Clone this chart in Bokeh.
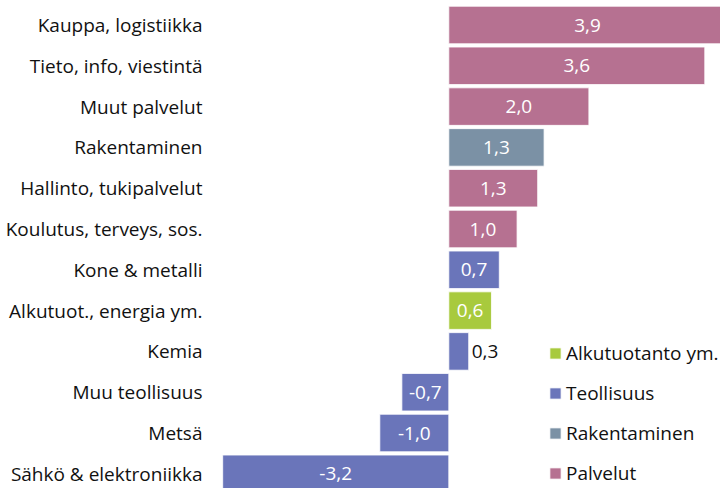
from bokeh.plotting import figure
from bokeh.models import Range1d, FixedTicker, Legend, LegendItem, ColumnDataSource
from bokeh.core.properties import value
from bokeh.embed import file_html
from bokeh.resources import INLINE

categories = ["Kauppa, logistiikka", "Tieto, info, viestintä", "Muut palvelut",
              "Rakentaminen", "Hallinto, tukipalvelut", "Koulutus, terveys, sos.",
              "Kone & metalli", "Alkutuot., energia ym.", "Kemia",
              "Muu teollisuus", "Metsä", "Sähkö & elektroniikka"]
values = [3.9, 3.6, 1.97, 1.34, 1.25, 0.96, 0.71, 0.6, 0.28, -0.66, -0.97, -3.18]
value_labels = ["3,9", "3,6", "2,0", "1,3", "1,3", "1,0", "0,7", "0,6", "0,3", "-0,7", "-1,0", "-3,2"]
groups = ["Palvelut", "Palvelut", "Palvelut", "Rakentaminen", "Palvelut", "Palvelut",
          "Teollisuus", "Alkutuotanto ym.", "Teollisuus", "Teollisuus", "Teollisuus", "Teollisuus"]
legend_order = ["Alkutuotanto ym.", "Teollisuus", "Rakentaminen", "Palvelut"]
group_colors = {"Alkutuotanto ym.": "#A8CA3D", "Teollisuus": "#6A75BA",
                "Rakentaminen": "#7B91A5", "Palvelut": "#B67191"}

FONT = "Open Sans"
FSIZE = "19px"
n = len(categories)
pos = list(range(n))

p = figure(width=720, height=488, output_backend="svg", toolbar_location=None,
           x_range=Range1d(-3.281, 3.821), y_range=Range1d(11.36, -0.6005),
           min_border_left=215, min_border_right=0, min_border_top=0, min_border_bottom=0)
p.outline_line_color = None
p.grid.grid_line_color = None
p.xaxis.visible = False
p.background_fill_color = "white"
p.border_fill_color = "white"

ya = p.yaxis[0]
ya.ticker = FixedTicker(ticks=pos)
ya.major_label_overrides = {i: c for i, c in enumerate(categories)}
ya.axis_line_color = None
ya.major_tick_line_color = None
ya.minor_tick_line_color = None
ya.major_tick_out = 0
ya.major_tick_in = 0
ya.major_label_standoff = 13
ya.major_label_text_font = FONT
ya.major_label_text_font_size = FSIZE
ya.major_label_text_color = "#111111"

items = []
for g in legend_order:
    idx = [i for i in range(n) if groups[i] == g]
    src = ColumnDataSource(dict(y=[pos[i] for i in idx], right=[values[i] for i in idx]))
    r = p.hbar(y="y", left=0, right="right", height=0.92, source=src,
               fill_color=group_colors[g], line_color="white", line_width=1, line_alpha=0.8)
    items.append(LegendItem(label=g, renderers=[r]))

# value labels: inside the bar (white) or just beyond its end (black) for short bars
inside = [abs(v) >= 0.5 for v in values]
lab_src = ColumnDataSource(dict(
    x=[v / 2 if ins else v for v, ins in zip(values, inside)],
    y=pos,
    text=value_labels,
    align=["center" if ins else "left" for ins in inside],
    color=["white" if ins else "#111111" for ins in inside],
    xoff=[0 if ins else 3 for ins in inside],
))
p.text(x="x", y="y", text="text", source=lab_src, text_align="align",
       text_baseline="middle", text_color="color", x_offset="xoff",
       text_font=value(FONT), text_font_size=FSIZE)

legend = Legend(items=items, location=(333, 2), orientation="vertical")
legend.label_text_font = FONT
legend.label_text_font_size = FSIZE
legend.label_text_color = "#111111"
legend.glyph_width = 14
legend.glyph_height = 14
legend.label_height = 20
legend.spacing = 14
legend.padding = 0
legend.margin = 0
legend.label_standoff = 4
legend.background_fill_alpha = 0
legend.border_line_color = None
p.add_layout(legend, "center")

open("out.html", "w").write(file_html(p, INLINE))
